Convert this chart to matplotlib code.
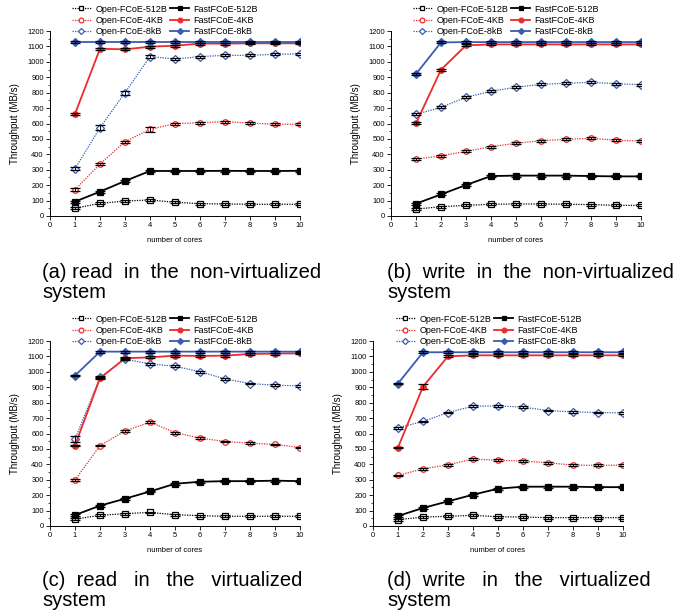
import matplotlib
matplotlib.use("Agg")
import matplotlib.pyplot as plt
from matplotlib.ticker import MultipleLocator

plt.rcParams['font.family'] = ['Liberation Sans', 'DejaVu Sans']

cores = [1, 2, 3, 4, 5, 6, 7, 8, 9, 10]

# (a) read, non-virtualized
a_open512 = [50, 82, 97, 104, 89, 80, 78, 76, 76, 76]
a_fast512 = [93, 158, 227, 292, 292, 292, 293, 292, 292, 293]
a_open4k = [171, 337, 482, 562, 599, 605, 612, 603, 595, 595]
a_fast4k = [662, 1085, 1081, 1098, 1105, 1118, 1118, 1120, 1120, 1120]
a_open8k = [307, 573, 800, 1034, 1018, 1034, 1042, 1042, 1049, 1051]
a_fast8k = [1130, 1130, 1130, 1130, 1130, 1130, 1130, 1130, 1130, 1130]

# (b) write, non-virtualized
b_open512 = [45, 60, 69, 76, 78, 78, 76, 74, 69, 69]
b_fast512 = [80, 140, 201, 259, 262, 262, 262, 259, 257, 257]
b_open4k = [368, 391, 419, 450, 471, 489, 497, 504, 491, 486]
b_fast4k = [601, 949, 1107, 1113, 1113, 1113, 1113, 1113, 1113, 1113]
b_open8k = [659, 705, 770, 809, 835, 854, 861, 867, 858, 852]
b_fast8k = [921, 1126, 1128, 1128, 1128, 1128, 1128, 1128, 1128, 1128]

# (c) read, virtualized
c_open512 = [45, 69, 80, 88, 73, 67, 63, 63, 63, 63]
c_fast512 = [71, 132, 177, 224, 274, 287, 291, 291, 294, 291]
c_open4k = [298, 522, 617, 673, 606, 570, 548, 537, 529, 509]
c_fast4k = [522, 958, 1088, 1094, 1105, 1103, 1105, 1116, 1118, 1120]
c_open8k = [563, 965, 1083, 1051, 1036, 1001, 954, 924, 913, 909]
c_fast8k = [976, 1131, 1131, 1131, 1131, 1131, 1131, 1131, 1131, 1131]

# (d) write, virtualized
d_open512 = [41, 58, 63, 69, 60, 58, 54, 54, 54, 54]
d_fast512 = [65, 117, 160, 203, 242, 255, 255, 255, 252, 252]
d_open4k = [328, 371, 397, 434, 427, 421, 410, 395, 393, 395]
d_fast4k = [509, 904, 1101, 1107, 1107, 1107, 1107, 1107, 1107, 1107]
d_open8k = [637, 678, 736, 777, 779, 771, 749, 740, 736, 734]
d_fast8k = [924, 1127, 1127, 1127, 1127, 1127, 1127, 1127, 1127, 1127]

err_small = [6, 6, 6, 6, 6, 6, 6, 6, 6, 6]
a_err_open8k = [8, 16, 12, 8, 6, 6, 6, 6, 6, 6]
a_err_open4k = [8, 8, 6, 14, 6, 6, 6, 6, 6, 6]
c_err_open8k = [18, 8, 6, 6, 6, 6, 6, 6, 6, 6]
d_err_fast4k = [6, 14, 6, 6, 6, 6, 6, 6, 6, 6]

labels = ["Open-FCoE-512B", "Open-FCoE-4KB", "Open-FCoE-8kB",
          "FastFCoE-512B", "FastFCoE-4KB", "FastFCoE-8kB"]
captions = [["(a) read  in  the  non-virtualized", "system"],
            ["(b)  write  in  the  non-virtualized", "system"],
            ["(c)  read   in   the   virtualized", "system"],
            ["(d)  write   in   the   virtualized", "system"]]

RED = "#ee2a2a"
BLUE = "#3a5bb0"
styles = [
    dict(color="black", ls=(0, (1, 1)), marker="s", mfc="white", lw=0.9),
    dict(color=RED, ls=(0, (1, 1)), marker="o", mfc="white", lw=0.9),
    dict(color=BLUE, ls=(0, (1, 1)), marker="D", mfc="white", lw=0.9),
    dict(color="black", ls="-", marker="s", mfc="black", lw=1.3),
    dict(color=RED, ls="-", marker="o", mfc=RED, lw=1.3),
    dict(color=BLUE, ls="-", marker="D", mfc=BLUE, lw=1.3),
]

W, H = 682, 610
fig = plt.figure(figsize=(W / 100, H / 100), dpi=100)

panels = [
    dict(rect=(50, 31, 250, 185), leg=(72, 4.5), ylab_x=20,
         series=[a_open512, a_open4k, a_open8k, a_fast512, a_fast4k, a_fast8k],
         errs=[err_small, a_err_open4k, a_err_open8k, err_small, err_small, err_small],
         xlab_y=240, cap=(42, 272)),
    dict(rect=(391, 31, 250, 185), leg=(413, 4.5), ylab_x=361,
         series=[b_open512, b_open4k, b_open8k, b_fast512, b_fast4k, b_fast8k],
         errs=[err_small] * 6, xlab_y=240, cap=(387, 272)),
    dict(rect=(50, 341, 250, 185), leg=(72, 314.5), ylab_x=20,
         series=[c_open512, c_open4k, c_open8k, c_fast512, c_fast4k, c_fast8k],
         errs=[err_small, err_small, c_err_open8k, err_small, err_small, err_small],
         xlab_y=551, cap=(42, 580)),
    dict(rect=(373, 341, 250, 185), leg=(396, 314.5), ylab_x=343,
         series=[d_open512, d_open4k, d_open8k, d_fast512, d_fast4k, d_fast8k],
         errs=[err_small, err_small, err_small, err_small, d_err_fast4k, err_small],
         xlab_y=551, cap=(387, 580)),
]

for i, p in enumerate(panels):
    x0, y0, w, h = p["rect"]
    ax = fig.add_axes([x0 / W, 1 - (y0 + h) / H, w / W, h / H])
    handles = []
    for ser, err, st, lab in zip(p["series"], p["errs"], styles, labels):
        ax.errorbar(cores, ser, yerr=err, fmt="none", ecolor="black",
                    elinewidth=0.7, capsize=3.5, capthick=0.9, zorder=3)
        ln, = ax.plot(cores, ser, color=st["color"], ls=st["ls"], lw=st["lw"],
                      marker=st["marker"], mfc=st["mfc"], mec=st["color"],
                      ms=4.0 if st["marker"] != "D" else 3.6, mew=0.9,
                      label=lab, zorder=2)
        handles.append(ln)
    ax.set_xlim(0, 10)
    ax.set_ylim(0, 1200)
    ax.xaxis.set_major_locator(MultipleLocator(1))
    ax.yaxis.set_major_locator(MultipleLocator(100))
    ax.yaxis.set_minor_locator(MultipleLocator(50))
    ax.tick_params(axis="both", which="major", labelsize=5.4, direction="out",
                   length=3, width=0.6, pad=1.5)
    ax.tick_params(axis="y", which="minor", direction="out", length=1.8, width=0.5)
    for s in ("top", "right"):
        ax.spines[s].set_visible(False)
    for s in ("left", "bottom"):
        ax.spines[s].set_linewidth(0.7)
    ax.set_ylabel("Throughput (MB/s)", fontsize=7)
    ax.yaxis.set_label_coords((p["ylab_x"] - x0) / w, 0.5)
    fig.text((x0 + w / 2) / W, 1 - p["xlab_y"] / H, "number of cores",
             fontsize=5.5, ha="center", va="center")
    lx, ly = p["leg"]
    fig.legend(handles=handles, loc="upper left",
               bbox_to_anchor=(lx / W, 1 - ly / H), bbox_transform=fig.transFigure,
               ncol=2, fontsize=6.5, frameon=False, borderpad=0, borderaxespad=0,
               handlelength=2.1, handletextpad=0.5, columnspacing=0.3,
               labelspacing=0.25, markerscale=0.85)
    cx, cy = p["cap"]
    fig.text(cx / W, 1 - cy / H, captions[i][0], fontsize=14.5, ha="left", va="center")
    fig.text(cx / W, 1 - (cy + 21) / H, captions[i][1], fontsize=14.5, ha="left", va="center")

fig.savefig("out.png", dpi=100)
